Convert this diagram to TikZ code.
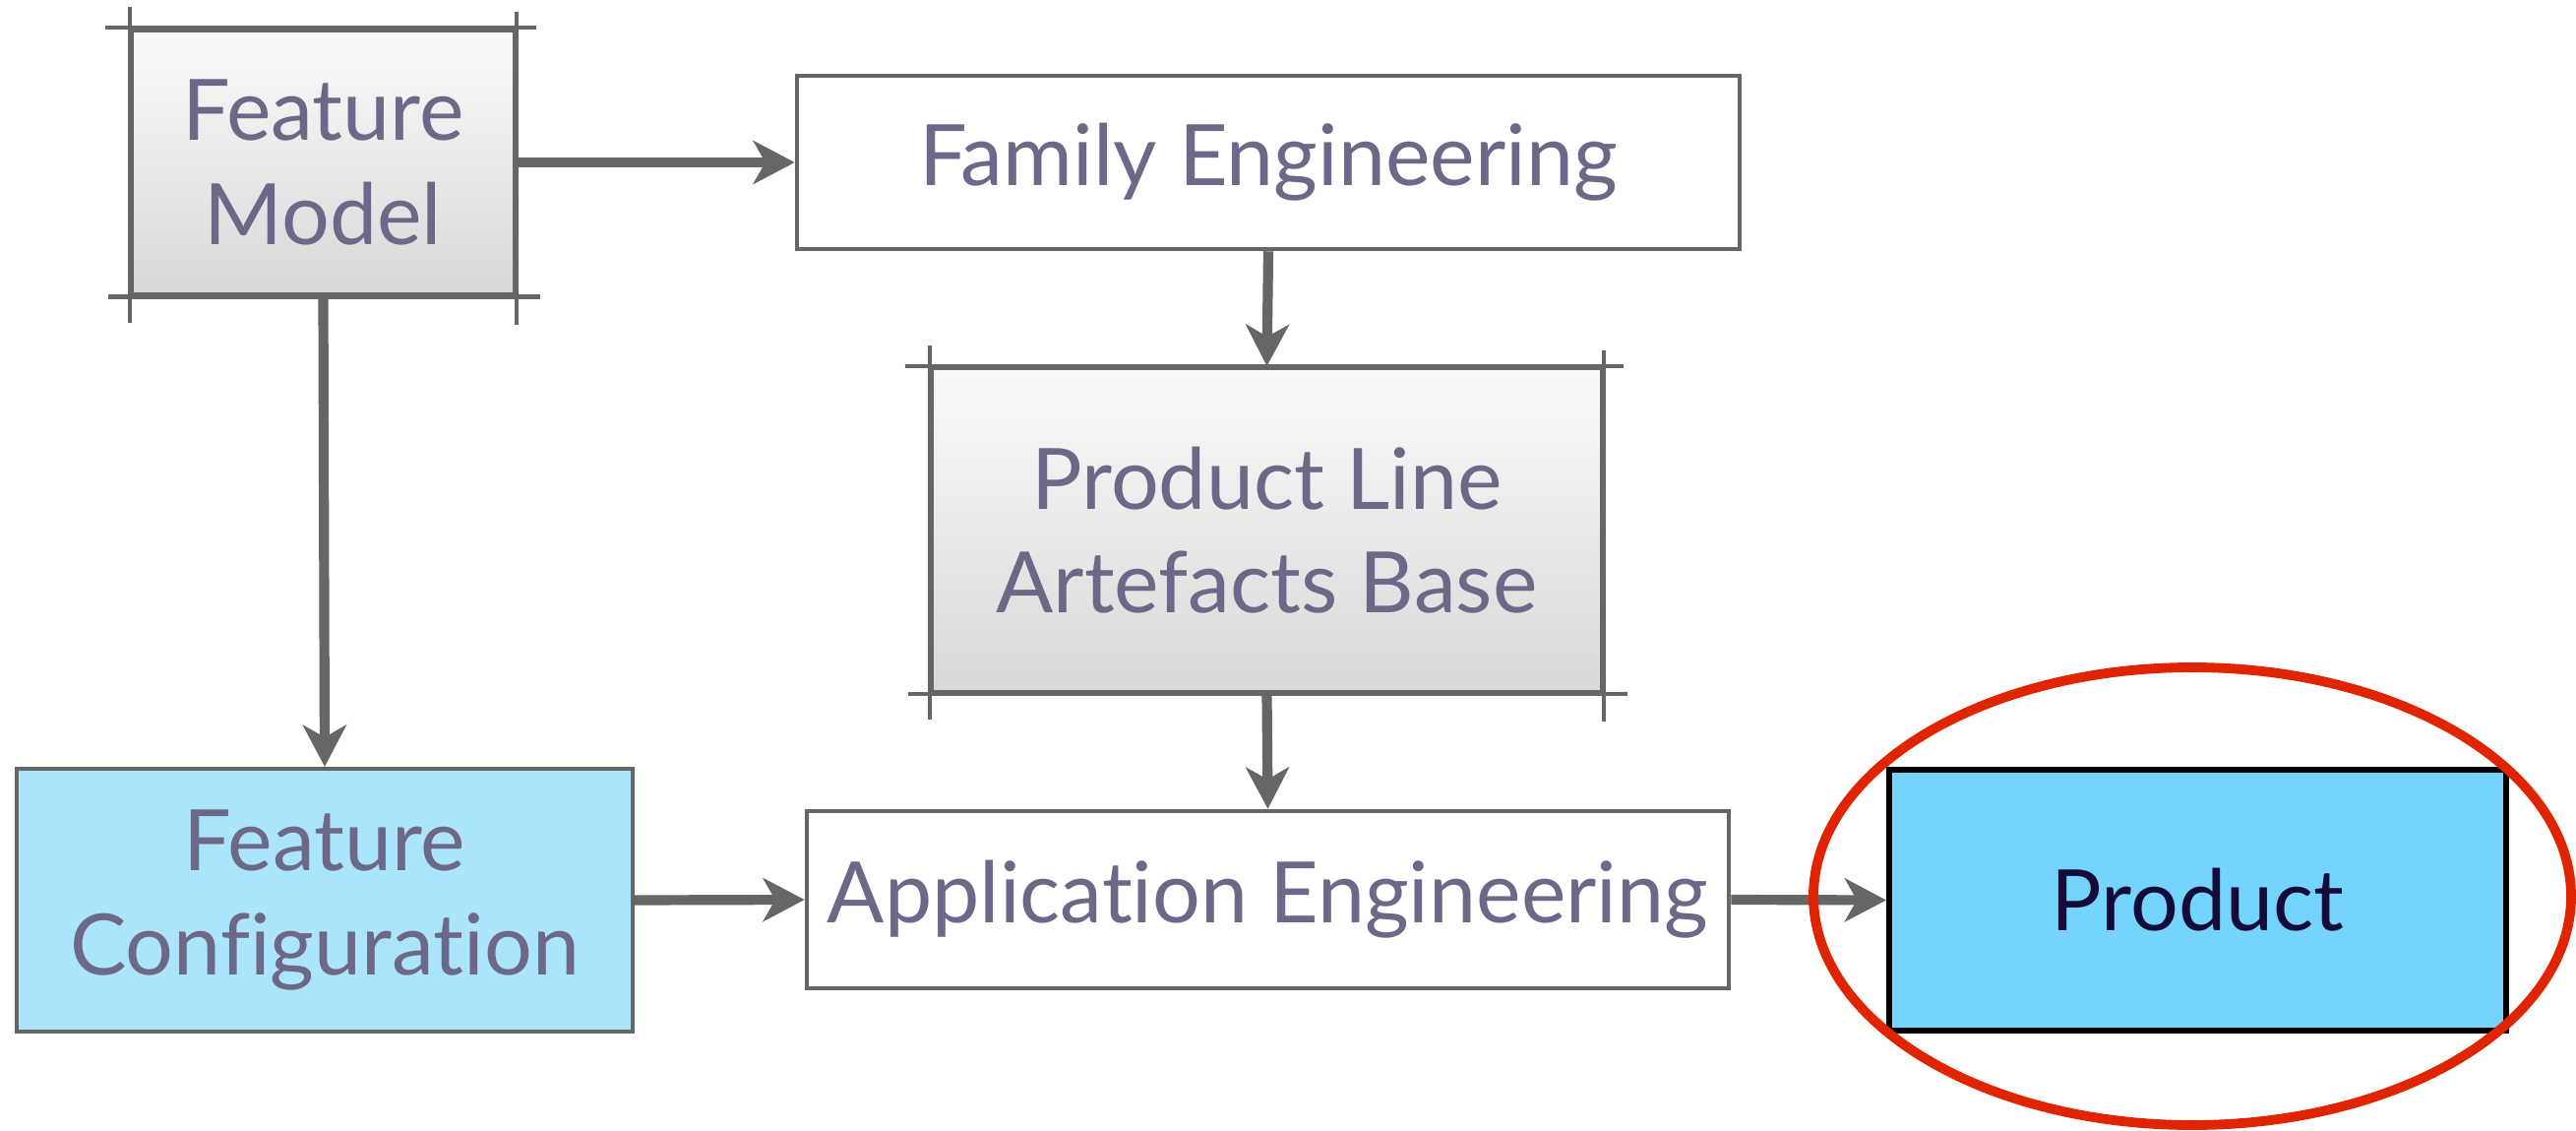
\documentclass[tikz,border=0pt]{standalone}
\usepackage{fontspec}
\setmainfont[Ligatures=NoCommon]{Lato}
\usetikzlibrary{arrows.meta,shapes.geometric}
\definecolor{txtpurple}{HTML}{6E6888}
\definecolor{linegray}{HTML}{666666}
\definecolor{cfgblue}{HTML}{ABE5FB}
\definecolor{prodblue}{HTML}{75D4FC}
\definecolor{prodtxt}{HTML}{150B3B}
\definecolor{ringred}{HTML}{E02400}
\tikzset{
  box/.style={rectangle,inner sep=0pt,align=center,text=txtpurple,
    font=\fontsize{24.5}{30}\selectfont},
  plainbox/.style={box,draw=linegray,line width=1.3pt,fill=white},
  artbox/.style={box,draw=linegray,line width=1.2pt,top color=white!98!black,bottom color=white!85!black},
  markline/.style={linegray,line width=1.2pt},
  flow/.style={linegray,line width=2.9pt,-{Stealth[length=12pt,width=12.5pt,inset=3.5pt]}}
}
\begin{document}
\begin{tikzpicture}
\useasboundingbox(0,0)rectangle(26.18,11.48);
\node[artbox,minimum width=3.89cm,minimum height=2.69cm](fm)at(3.285,9.83){Feature\\Model};
\node[plainbox,minimum width=9.58cm,minimum height=1.76cm](fe)at(12.89,9.83){Family Engineering};
\node[artbox,minimum width=6.81cm,minimum height=3.29cm](plab)at(12.875,6.095){Product Line\\Artefacts Base};
\node[box,draw=linegray,line width=1.2pt,fill=cfgblue,minimum width=6.26cm,minimum height=2.67cm](fc)at(3.30,2.335){Feature\\Configuration};
\node[plainbox,minimum width=9.37cm,minimum height=1.80cm](ae)at(12.885,2.34){Application Engineering};
\node[box,draw=black,line width=1.7pt,fill=prodblue,text=prodtxt,minimum width=6.27cm,minimum height=2.65cm](prod)at(22.335,2.335){Product};
%
\foreach \n in {fm,plab}{
\draw[markline]([xshift=-2.5mm]\n.north west)--([xshift=2mm]\n.north east);
\draw[markline]([xshift=-2.2mm]\n.south west)--([xshift=2.4mm]\n.south east);
\draw[markline]([yshift=2.1mm]\n.north west)--([yshift=-2.6mm]\n.south west);
\draw[markline]([yshift=1.6mm]\n.north east)--([yshift=-2.8mm]\n.south east);
}
%
\draw[flow](fm.east)--(fe.west);
\draw[flow](fm.south)--(fc.north);
\draw[flow](fe.south)--(plab.north);
\draw[flow](plab.south)--(ae.north);
\draw[flow](fc.east)--(ae.west);
\draw[flow](ae.east)--(prod.west);
%
\node[ellipse,draw=ringred,line width=2.8pt,minimum width=7.7cm,minimum height=4.65cm](ring)at(22.28,2.375){};
\end{tikzpicture}
\end{document}
